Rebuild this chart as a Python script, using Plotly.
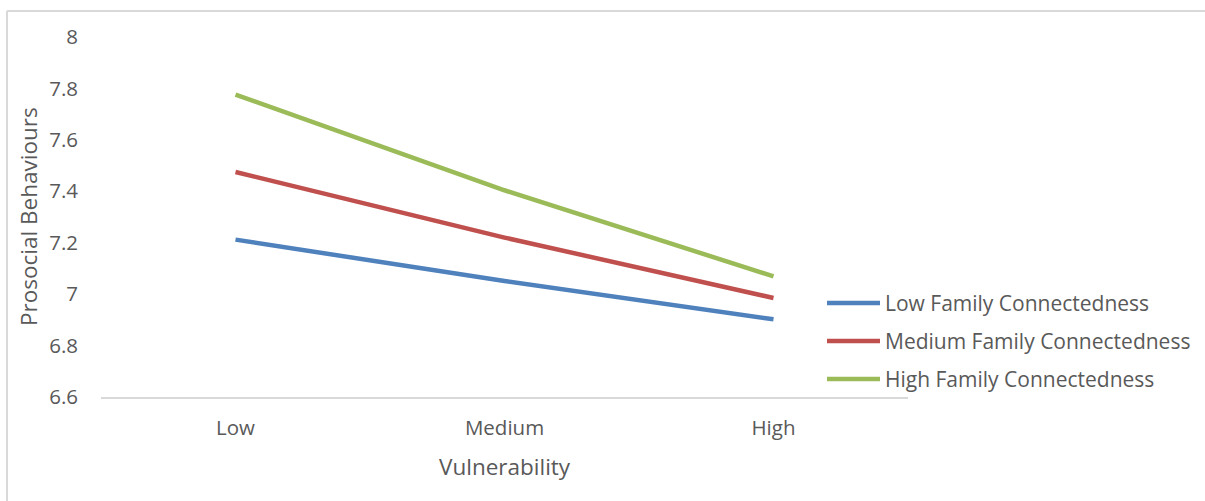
import plotly.graph_objects as go

# Simple-slopes style interaction plot
vulnerability = ["Low", "Medium", "High"]
low_family = [7.212, 7.051, 6.902]
medium_family = [7.475, 7.220, 6.985]
high_family = [7.776, 7.404, 7.069]

series_names = ["Low Family Connectedness", "Medium Family Connectedness", "High Family Connectedness"]
series_values = [low_family, medium_family, high_family]
series_colors = ["#4F81BD", "#C0504D", "#9BBB59"]

y_ticks = [6.6, 6.8, 7.0, 7.2, 7.4, 7.6, 7.8, 8.0]
y_tick_text = ["6.6", "6.8", "7", "7.2", "7.4", "7.6", "7.8", "8"]

FONT = "'Open Sans', Lato, sans-serif"
TEXT = "#595959"
TICK_SIZE = 20.5
LEGEND_SIZE = 21
TITLE_SIZE = 22.5

W, H = 1205, 501
ML, MR, MT, MB = 101, 297, 37, 104
PW, PH = W - ML - MR, H - MT - MB


def px(x):
    return (x - ML) / PW


def py(y):
    return (H - MB - y) / PH


fig = go.Figure()
for name, vals, col in zip(series_names, series_values, series_colors):
    fig.add_trace(go.Scatter(
        x=vulnerability, y=vals, mode="lines", name=name,
        line=dict(color=col, width=4.5), showlegend=False,
    ))

shapes = [
    # outer chart frame (left and top edges)
    dict(type="line", xref="paper", yref="paper", x0=px(7), x1=px(7), y0=py(11), y1=py(H + 5),
         line=dict(color="#D9D9D9", width=2)),
    dict(type="line", xref="paper", yref="paper", x0=px(7), x1=px(1205), y0=py(11), y1=py(11),
         line=dict(color="#D9D9D9", width=2)),
]
annotations = [
    dict(text="Prosocial Behaviours", xref="paper", yref="paper", x=px(28), y=py(217),
         textangle=-90, showarrow=False, font=dict(family=FONT, size=TITLE_SIZE, color=TEXT),
         xanchor="center", yanchor="middle"),
    dict(text="Vulnerability", xref="paper", yref="paper", x=px(505), y=py(466),
         showarrow=False, font=dict(family=FONT, size=TITLE_SIZE, color=TEXT),
         xanchor="center", yanchor="middle"),
]

# legend drawn beside the plot area
leg_y = [303, 341, 379]
for name, col, yy in zip(series_names, series_colors, leg_y):
    shapes.append(dict(type="line", xref="paper", yref="paper", x0=px(827), x1=px(880),
                       y0=py(yy), y1=py(yy), line=dict(color=col, width=4.5)))
    annotations.append(dict(text=name, xref="paper", yref="paper", x=px(883), y=py(yy),
                            showarrow=False, xanchor="left", yanchor="middle",
                            font=dict(family=FONT, size=LEGEND_SIZE, color=TEXT)))

fig.update_layout(
    width=W, height=H,
    margin=dict(l=ML, r=MR, t=MT, b=MB),
    paper_bgcolor="white", plot_bgcolor="white",
    font=dict(family=FONT, size=TICK_SIZE, color=TEXT),
    shapes=shapes, annotations=annotations,
    xaxis=dict(
        type="category", range=[-0.5, 2.5], showgrid=False, zeroline=False,
        showline=True, linecolor="#D9D9D9", linewidth=2,
        ticks="", tickfont=dict(size=TICK_SIZE, color=TEXT), ticklabelstandoff=11,
    ),
    yaxis=dict(
        range=[6.6, 8.0], tickvals=y_ticks, ticktext=y_tick_text,
        showgrid=False, zeroline=False, showline=False, ticks="",
        tickfont=dict(size=TICK_SIZE, color=TEXT), ticklabelstandoff=22,
    ),
)

fig.write_html("out.html")
